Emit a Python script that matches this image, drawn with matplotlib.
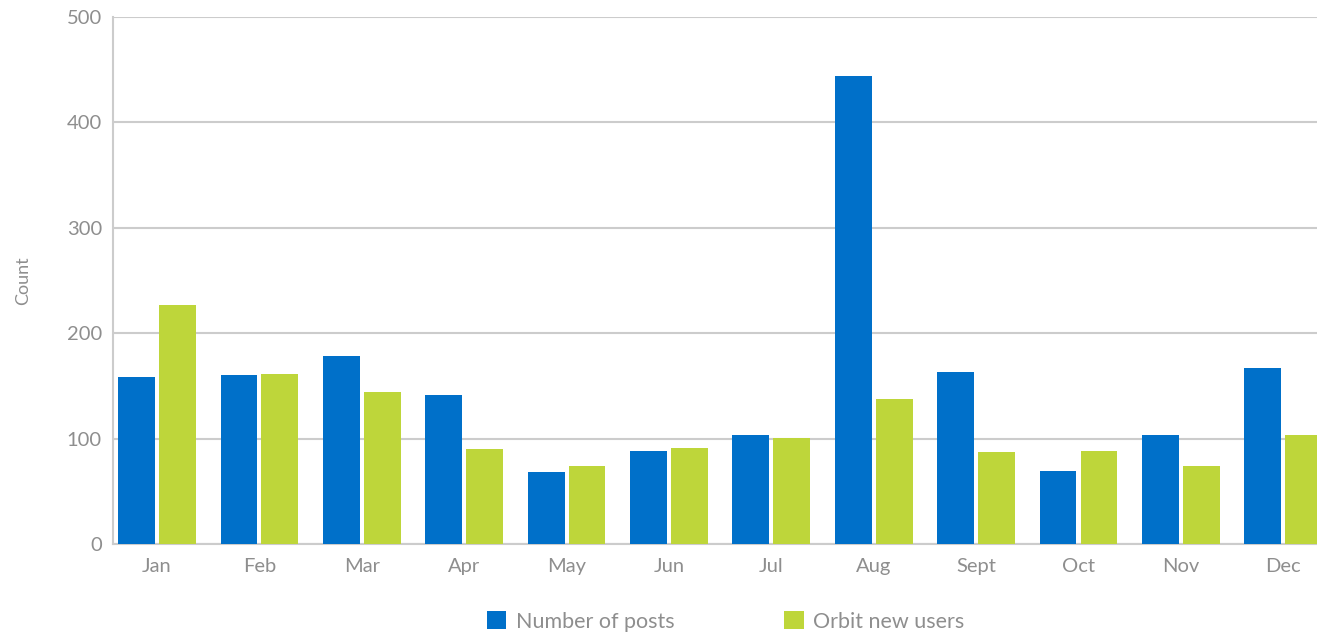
import numpy as np
import matplotlib
matplotlib.use("Agg")
import matplotlib.pyplot as plt

# data
months = ["Jan", "Feb", "Mar", "Apr", "May", "Jun", "Jul", "Aug", "Sept", "Oct", "Nov", "Dec"]
posts = [158, 160, 178, 141, 68, 88, 103, 444, 163, 69, 103, 167]
new_users = [227, 161, 144, 90, 74, 91, 101, 138, 87, 88, 74, 103]

blue = "#0070c9"
green = "#bed63a"
grey_txt = "#8e8e8e"
grey_line = "#cccccc"

plt.rcParams["font.family"] = ["Lato", "DejaVu Sans"]

fig = plt.figure(figsize=(13.17, 6.32), dpi=100)
ax = fig.add_axes([113/1317, 88/632, 1 - 113/1317, (544-17)/632])

x = np.arange(len(months))
w = 0.36
b1 = ax.bar(x - 0.2, posts, w, color=blue, label="Number of posts", zorder=3)
b2 = ax.bar(x + 0.2, new_users, w, color=green, label="Orbit new users", zorder=3)

ax.set_xlim(-0.43, 11.33)
ax.set_ylim(0, 500)
ax.set_yticks([0, 100, 200, 300, 400, 500])
ax.set_xticks(x)
ax.set_xticklabels(months)
ax.yaxis.grid(True, color=grey_line, linewidth=1.5, zorder=0)
ax.tick_params(axis="both", length=0, labelsize=14.5, labelcolor=grey_txt)
ax.tick_params(axis="x", pad=10)
ax.tick_params(axis="y", pad=8)

for s in ["top", "right"]:
    ax.spines[s].set_visible(False)
for s in ["left", "bottom"]:
    ax.spines[s].set_color(grey_line)
    ax.spines[s].set_linewidth(1.5)

ax.set_ylabel("Count", fontsize=13, color=grey_txt)
ax.yaxis.set_label_coords(-0.068, 0.5)

leg = fig.legend(handles=[b1, b2], loc="lower center", bbox_to_anchor=(0.551, -0.03),
                 ncol=2, frameon=False, fontsize=15.5, handlelength=0.9, handleheight=0.9,
                 handletextpad=0.45, columnspacing=5.1)
for t in leg.get_texts():
    t.set_color(grey_txt)

fig.savefig("out.png", dpi=100)
